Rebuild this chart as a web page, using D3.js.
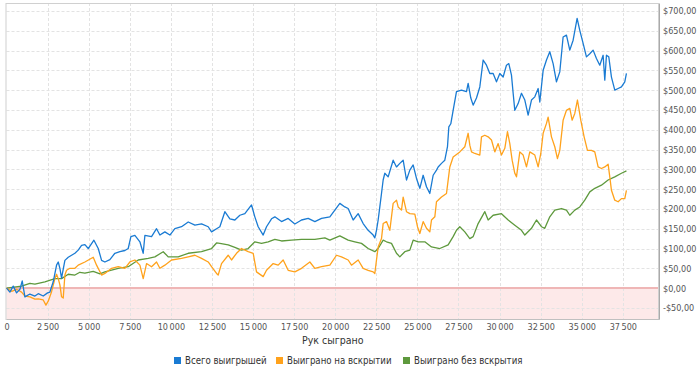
<!DOCTYPE html>
<html>
<head>
<meta charset="utf-8">
<script src="https://cdn.jsdelivr.net/npm/d3@7"></script>
<style>
  body { margin: 0; background: #fff; }
  svg { display: block; font-family: "DejaVu Sans Condensed", "Liberation Sans", sans-serif; }
</style>
</head>
<body>
<svg width="700" height="376"></svg>
<script>
/* global d3 */

var width = 700,
  height = 376;

// Всего выигрышей
var totalHands = [ 5, 207, 410, 613, 816, 958, 1120, 1424, 1729, 1931, 2235, 2499, 2641, 2843,
  3046, 3148, 3249, 3350, 3553, 3756, 3959, 4162, 4364, 4567, 4770, 4973, 5318, 5582, 5785,
  5987, 6290, 6594, 6898, 7203, 7406, 7568, 7811, 8116, 8318, 8420, 8825, 9129, 9332, 9636,
  9941, 10245, 10650, 11056, 11462, 11867, 12273, 12476, 12780, 12981, 13285, 13590, 13894,
  14198, 14502, 14908, 15110, 15313, 15617, 15820, 16125, 16327, 16733, 17139, 17544, 17950,
  18356, 18761, 19167, 19674, 20281, 20585, 20788, 21092, 21396, 21700, 22004, 22309, 22410,
  22511, 22613, 22714, 22816, 22917, 23018, 23221, 23525, 23728, 23931, 24134, 24337, 24539,
  24742, 24945, 25148, 25350, 25553, 25756, 25959, 26162, 26263, 26466, 26668, 26831, 26912,
  27033, 27175, 27378, 27682, 27986, 28088, 28250, 28392, 28595, 28798, 29001, 29203, 29406,
  29609, 29812, 30015, 30217, 30420, 30562, 30724, 30826, 30927, 31130, 31333, 31536, 31738,
  31941, 32144, 32347, 32448, 32651, 32854, 33055, 33258, 33461, 33664, 33866, 34069, 34272,
  34475, 34718, 34880, 35083, 35286, 35489, 35692, 35894, 36097, 36300, 36402, 36503, 36645,
  36807, 37010, 37213, 37415, 37618, 37719 ];
var totalWon = [ 0, -10, 5, -12, -3, 18, -22, -15, -20, -14, -20, -12, -10, 16,
  58, 66, 50, 25, 70, 78, 83, 88, 96, 108, 110, 100, 121, 100, 70,
  66, 72, 88, 92, 95, 100, 130, 133, 117, 88, 133, 130, 150, 134, 142,
  134, 150, 155, 167, 159, 162, 155, 142, 150, 155, 193, 175, 172,
  184, 188, 210, 180, 155, 134, 155, 175, 180, 168, 176, 162, 172,
  176, 168, 176, 180, 214, 205, 201, 172, 188, 163, 146, 134, 127,
  146, 172, 205, 239, 273, 290, 281, 323, 306, 315, 323, 273, 298,
  311, 277, 252, 285, 256, 239, 285, 298, 306, 315, 323, 357, 407,
  415, 449, 496, 500, 496, 517, 480, 462, 480, 508, 576, 563, 542,
  542, 521, 542, 533, 563, 567, 538, 492, 449, 466, 492, 475, 437,
  475, 483, 504, 470, 550, 576, 597, 567, 521, 546, 634, 639, 601,
  626, 681, 651, 618, 584, 592, 601, 580, 563, 588, 525, 588, 584,
  533, 500, 504, 508, 521, 542 ];

// Выиграно на вскрытии
var showdownHands = [ 5, 309, 613, 917, 1120, 1424, 1729, 1931, 2235, 2397, 2539, 2742, 2945,
  3046, 3148, 3249, 3350, 3452, 3553, 3655, 3857, 4162, 4364, 4770, 5277, 5480, 5785, 5986,
  6392, 6797, 7203, 7507, 7811, 8116, 8318, 8521, 8825, 9129, 9332, 9636, 10042, 10650, 11056,
  11462, 11867, 12273, 12476, 12780, 12880, 13083, 13488, 13691, 13995, 14299, 14705, 15009,
  15212, 15617, 15820, 16226, 16530, 16834, 17139, 17544, 17950, 18457, 18761, 19167, 19674,
  20078, 20382, 20788, 20990, 21396, 21700, 22004, 22309, 22410, 22511, 22613, 22816, 22917,
  23120, 23323, 23525, 23728, 23829, 24032, 24134, 24337, 24539, 24844, 25006, 25148, 25350,
  25553, 25756, 25858, 26061, 26161, 26466, 26770, 26973, 27175, 27581, 27885, 28088, 28189,
  28291, 28494, 28798, 28899, 29102, 29305, 29508, 29710, 29913, 30116, 30319, 30481, 30623,
  30765, 30927, 31029, 31231, 31434, 31637, 31840, 32144, 32347, 32509, 32651, 32854, 32954,
  33157, 33359, 33522, 33664, 33866, 34069, 34272, 34414, 34576, 34738, 34941, 35144, 35347,
  35590, 35793, 35996, 36198, 36401, 36604, 36706, 36807, 37010, 37213, 37415, 37618, 37719 ];
var showdownWon = [ 0, -8, -3, -10, -20, -22, -28, -27, -30, -43, -33, -9, 24,
  35, 24, 8, -22, -25, 33, 45, 50, 50, 58, 66, 78, 58, 33, 37,
  50, 54, 50, 66, 71, 58, 24, 62, 54, 66, 50, 58, 71, 75, 79,
  83, 75, 66, 54, 37, 33, 62, 83, 71, 88, 100, 92, 88,
  41, 29, 45, 62, 58, 71, 45, 41, 50, 66, 50, 54, 58,
  83, 79, 71, 58, 71, 50, 45, 41, 37, 71, 104, 125, 163,
  168, 146, 214, 222, 205, 197, 230, 193, 188, 187, 155, 138, 168,
  151, 142, 172, 180, 218, 230, 239, 306, 331, 344, 357, 391, 361,
  344, 340, 336, 382, 386, 382, 374, 344, 365, 336, 353, 395, 365,
  323, 290, 281, 344, 336, 306, 344, 336, 306, 340, 391, 416, 432,
  382, 357, 327, 348, 424, 449, 454, 424, 441, 475, 424, 382, 348,
  348, 344, 306, 302, 306, 313, 281, 247, 222, 218, 226, 226, 247 ];

// Выиграно без вскрытия
var nonShowdownHands = [ 5, 917, 1424, 1729, 2337, 2945, 3350, 3756, 4162, 4466, 4770, 5277,
  5683, 5986, 6797, 7406, 8014, 8622, 9028, 9535, 9839, 10448, 11056, 11867, 12476, 12780,
  12981, 13488, 13894, 14299, 14705, 15110, 15516, 15921, 16327, 16733, 17341, 17950, 18761,
  19370, 19674, 20281, 20788, 21193, 21599, 22004, 22410, 22613, 22917, 23120, 23424, 23728,
  23931, 24235, 24539, 24742, 25046, 25452, 25858, 26364, 26871, 27175, 27378, 27581, 27885,
  28189, 28392, 28696, 29102, 29305, 29609, 30116, 30522, 30927, 31333, 31536, 31941, 32245,
  32550, 32751, 33055, 33359, 33765, 34069, 34272, 34576, 34880, 35184, 35489, 35793, 36198,
  36604, 37010, 37415, 37719 ];
var nonShowdownWon = [ 0, 5, 12, 10, 16, 24, 24, 35, 33, 40, 38, 42,
  36, 41, 50, 54, 71, 75, 79, 92, 79, 79, 88, 92, 100, 114,
  113, 109, 103, 96, 100, 117, 113, 117, 123, 119, 121, 123, 123,
  127, 121, 132, 121, 117, 113, 100, 92, 100, 121, 117, 113, 88,
  79, 92, 96, 121, 117, 117, 104, 100, 109, 130, 146, 155, 142,
  125, 130, 163, 193, 172, 184, 188, 172, 159, 146, 134, 151, 172,
  155, 151, 180, 197, 201, 197, 184, 197, 205, 222, 243, 252, 260,
  273, 281, 290, 296 ];

var seriesNames = [ "Всего выигрышей", "Выиграно на вскрытии", "Выиграно без вскрытия" ];
var seriesColors = [ "#1a7bd3", "#ffa21c", "#5e993d" ];

var xTicks = d3.range( 0, 37501, 2500 );
var yTicks = d3.range( -50, 701, 50 );

var plot = { left: 6.5, right: 659, top: 3, bottom: 319 };

var svg = d3.select( "svg" );

var xScale = d3.scaleLinear()
  .domain( [ 0, 39700 ] )
  .range( [ plot.left, plot.right ] );

var yScale = d3.scaleLinear()
  .domain( [ -78, 720 ] )
  .range( [ plot.bottom, plot.top ] );

var fmtHands = d => d3.format( ",d" )( d ).replace( /,/g, "\u2009" );
var fmtMoney = d => ( d < 0 ? "-$" : "$" ) + Math.abs( d ) + ",00";

// negative zone
svg.append( "rect" )
  .attr( "x", plot.left )
  .attr( "y", yScale( 0 ) )
  .attr( "width", plot.right - plot.left )
  .attr( "height", plot.bottom - yScale( 0 ) )
  .attr( "fill", "#fde9e9" );

// grid
svg.append( "g" )
  .selectAll( "line" )
  .data( yTicks.filter( d => d !== 0 ) )
  .enter().append( "line" )
    .attr( "x1", plot.left )
    .attr( "x2", plot.right )
    .attr( "y1", d => Math.round( yScale( d ) ) + 0.5 )
    .attr( "y2", d => Math.round( yScale( d ) ) + 0.5 )
    .attr( "stroke", "#e3e3e3" )
    .attr( "stroke-dasharray", "3,2" );

svg.append( "g" )
  .selectAll( "line" )
  .data( xTicks.filter( d => d > 0 ) )
  .enter().append( "line" )
    .attr( "x1", d => Math.round( xScale( d ) ) + 0.5 )
    .attr( "x2", d => Math.round( xScale( d ) ) + 0.5 )
    .attr( "y1", plot.top )
    .attr( "y2", plot.bottom )
    .attr( "stroke", "#e3e3e3" )
    .attr( "stroke-dasharray", "3,2" );

svg.append( "line" )
  .attr( "x1", plot.left )
  .attr( "x2", plot.right )
  .attr( "y1", yScale( 0 ) )
  .attr( "y2", yScale( 0 ) )
  .attr( "stroke", "#efb6b6" )
  .attr( "stroke-width", 2 );

// frame
svg.append( "rect" )
  .attr( "x", plot.left - 0.5 )
  .attr( "y", plot.top + 0.5 )
  .attr( "width", plot.right - plot.left )
  .attr( "height", plot.bottom - plot.top )
  .attr( "fill", "none" )
  .attr( "stroke", "#d0d0d0" );

// axes
var xAxis = d3.axisBottom( xScale )
  .tickValues( xTicks )
  .tickSize( 0 )
  .tickPadding( 5 )
  .tickFormat( fmtHands );

svg.append( "g" )
  .attr( "class", "x axis" )
  .attr( "transform", "translate(0," + plot.bottom + ")" )
  .call( xAxis )
  .call( g => g.select( ".domain" ).attr( "stroke", "#c0c0c0" ) );

var yAxis = d3.axisRight( yScale )
  .tickValues( yTicks )
  .tickSize( 0 )
  .tickPadding( 4 )
  .tickFormat( fmtMoney );

svg.append( "g" )
  .attr( "class", "y axis" )
  .attr( "transform", "translate(" + plot.right + ",0)" )
  .call( yAxis )
  .call( g => g.select( ".domain" ).attr( "stroke", "#aaa" ) );

svg.selectAll( ".axis text" )
  .attr( "fill", "#555" )
  .style( "font-size", "9px" )
  .style( "font-family", "DejaVu Sans Condensed, Liberation Sans, sans-serif" );

svg.append( "text" )
  .attr( "x", ( plot.left + plot.right ) / 2 )
  .attr( "y", 344 )
  .attr( "text-anchor", "middle" )
  .attr( "fill", "#333" )
  .style( "font-size", "10.5px" )
  .text( "Рук сыграно" );

// lines, drawn green first so blue sits on top
var series = [
  { hands: totalHands, won: totalWon, color: seriesColors[ 0 ] },
  { hands: showdownHands, won: showdownWon, color: seriesColors[ 1 ] },
  { hands: nonShowdownHands, won: nonShowdownWon, color: seriesColors[ 2 ] }
];

svg.append( "g" )
  .selectAll( "path" )
  .data( series.slice().reverse() )
  .enter().append( "path" )
    .attr( "d", s => d3.line()
      .x( ( d, i ) => xScale( s.hands[ i ] ) )
      .y( d => yScale( d ) )( s.won ) )
    .attr( "fill", "none" )
    .attr( "stroke", s => s.color )
    .attr( "stroke-width", 1.3 )
    .attr( "stroke-linejoin", "round" );

// legend
var legendX = [ 174, 276, 403 ];

var legend = svg.append( "g" )
  .selectAll( "g" )
  .data( seriesNames )
  .enter().append( "g" )
    .attr( "transform", ( d, i ) => "translate(" + legendX[ i ] + ",357)" );

legend.append( "rect" )
  .attr( "width", 7 )
  .attr( "height", 7 )
  .attr( "fill", ( d, i ) => seriesColors[ i ] );

legend.append( "text" )
  .attr( "x", 11 )
  .attr( "y", 7 )
  .attr( "fill", "#333" )
  .style( "font-size", "9.6px" )
  .text( d => d );
</script>
</body>
</html>
